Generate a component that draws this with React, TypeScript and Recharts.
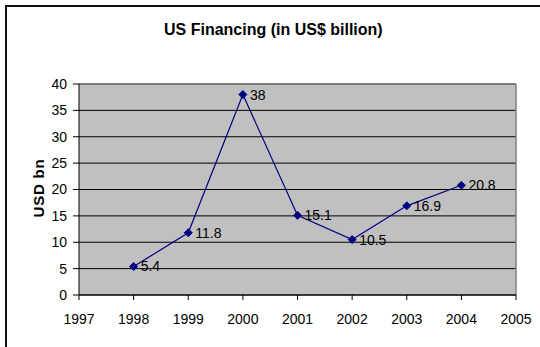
import { LineChart, Line, XAxis, YAxis, CartesianGrid, LabelList, ReferenceLine } from 'recharts';

const years = [1998, 1999, 2000, 2001, 2002, 2003, 2004];
const financing = [5.4, 11.8, 38, 15.1, 10.5, 16.9, 20.8];
const xTicks = [1997, 1998, 1999, 2000, 2001, 2002, 2003, 2004, 2005];
const yTicks = [0, 5, 10, 15, 20, 25, 30, 35, 40];

const data = years.map((year, i) => ({ year, value: financing[i] }));

const FONT = 'Arial, "Liberation Sans", sans-serif';

// diamond marker like the old Excel default
const Diamond = (props: any) => {
  const { cx, cy } = props;
  if (cx == null || cy == null) return null;
  const r = 4;
  return (
    <polygon
      points={`${cx},${cy - r} ${cx + r},${cy} ${cx},${cy + r} ${cx - r},${cy}`}
      fill="#000080"
      stroke="#000080"
    />
  );
};

export default function App() {
  return (
    <div style={{ position: 'absolute', left: 0, top: 0, width: 540, height: 347, overflow: 'hidden', background: '#fff', fontFamily: FONT }}>
      {/* outer chart frame */}
      <div style={{ position: 'absolute', left: 5, top: 5, width: 560, height: 370, borderLeft: '2px solid #111', borderTop: '2px solid #111' }} />
      <div style={{ position: 'absolute', left: 164, top: 21, fontSize: 16, lineHeight: '18px', fontWeight: 'bold', color: '#000', whiteSpace: 'nowrap' }}>
        US Financing (in US$ billion)
      </div>
      <div style={{ position: 'absolute', left: 38, top: 188, transform: 'translate(-50%, -50%) rotate(-90deg)', fontSize: 15, fontWeight: 'bold', whiteSpace: 'nowrap', letterSpacing: 0.8 }}>
        USD bn
      </div>
      <LineChart width={540} height={347} data={data} margin={{ top: 84, right: 24, left: 49, bottom: 12 }}>
        <CartesianGrid fill="#c0c0c0" stroke="#000" strokeOpacity={1} vertical={false} />
        <ReferenceLine y={40} stroke="#808080" strokeWidth={1.5} />
        <ReferenceLine x={2005} stroke="#808080" strokeWidth={1.5} />
        <XAxis
          dataKey="year"
          type="number"
          domain={[1997, 2005]}
          ticks={xTicks}
          interval={0}
          height={40}
          tick={{ fontSize: 14, fill: '#000', fontFamily: FONT }}
          axisLine={{ stroke: '#000' }}
          tickLine={{ stroke: '#000' }}
          tickSize={5}
          tickMargin={14}
        />
        <YAxis
          type="number"
          domain={[0, 40]}
          ticks={yTicks}
          interval={0}
          width={30}
          tick={{ fontSize: 14, fill: '#000', fontFamily: FONT }}
          axisLine={{ stroke: '#000' }}
          tickLine={{ stroke: '#000' }}
          tickSize={6}
          tickMargin={6}
        />
        <Line
          type="linear"
          dataKey="value"
          stroke="#000080"
          strokeWidth={1.2}
          dot={<Diamond />}
          activeDot={false}
          isAnimationActive={false}
        >
          <LabelList dataKey="value" position="right" offset={7} style={{ fontSize: 14, fill: '#000', fontFamily: FONT }} />
        </Line>
      </LineChart>
    </div>
  );
}
